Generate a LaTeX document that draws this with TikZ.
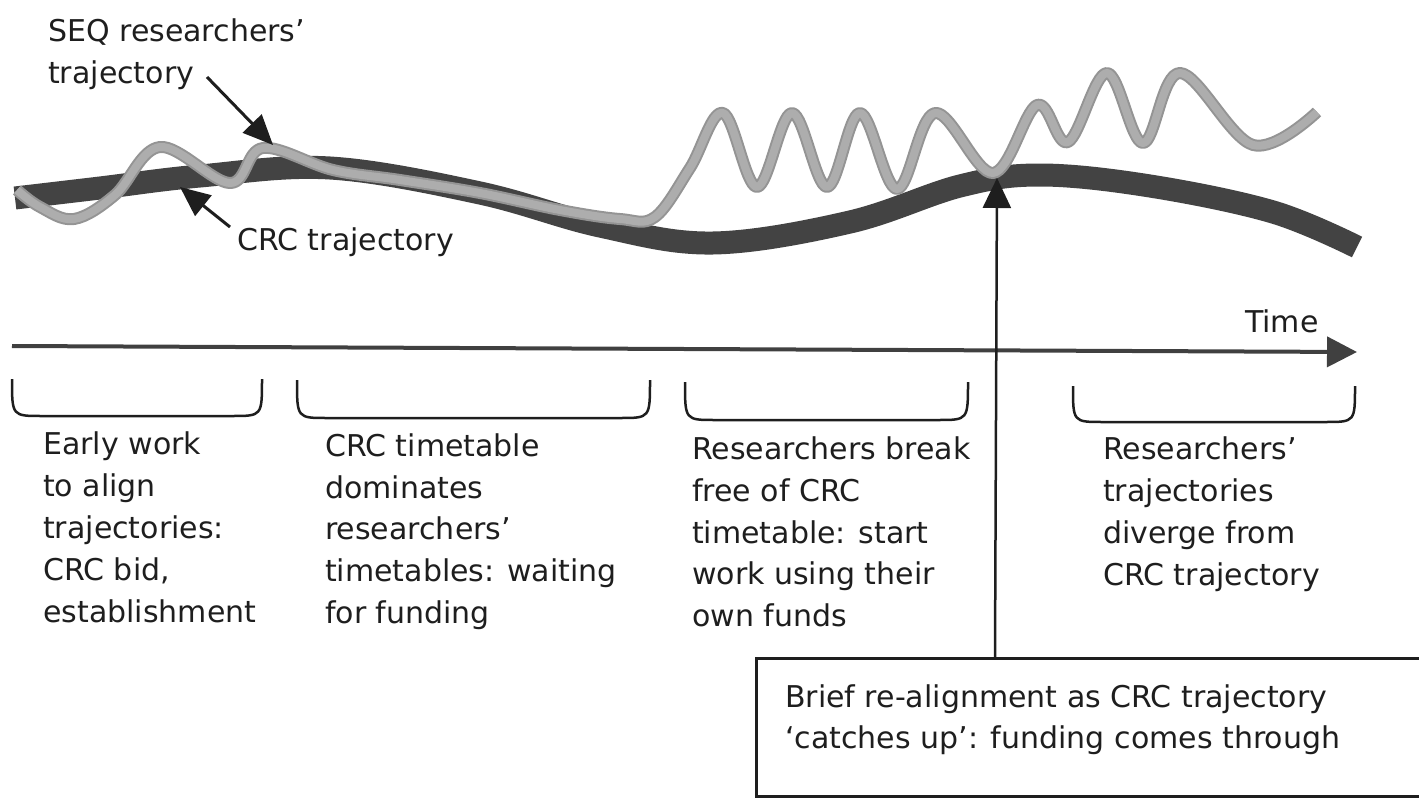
\documentclass[tikz,border=0pt]{standalone}
\usepackage{fontspec}
\setmainfont{DejaVu Sans}
\usetikzlibrary{arrows.meta,calc}
\definecolor{band}{HTML}{434343}
\definecolor{seqedge}{HTML}{949494}
\definecolor{seqfill}{HTML}{ADADAD}
\definecolor{ink}{HTML}{1E1E1E}
\newcommand\ubrk[4]{\draw[brkt] (#1,#2) .. controls (#1,#3) and (#1,#3) .. (#1+30,#3) -- (#4-30,#3) .. controls (#4,#3) and (#4,#3) .. (#4,#2);}
\begin{document}
\begin{tikzpicture}[x=1pt,y=-1pt,
  lbl/.style={font=\fontsize{30}{42}\selectfont, align=left, inner sep=0pt, text=ink},
  ptr/.style={draw=ink, line width=3pt, -{Triangle[length=30pt,width=26pt]}},
  brkt/.style={draw=ink, line width=2.5pt},
  crcband/.style={draw=band, line width=23pt},
  seqline/.style={draw=seqedge, double=seqfill, double distance=8pt, line width=2pt, line join=round},
  axisline/.style={draw=ink!85, line width=4pt, -{Triangle[length=30pt,width=30pt]}}]
\useasboundingbox (0,0) rectangle (1419,800);
\clip (0,0) rectangle (1419,800);

% CRC trajectory band
\draw[crcband] plot[smooth, tension=0.6] coordinates {(15,198) (100,188) (200,176) (330,168) (480,193) (600,226) (713,243) (850,222) (960,186) (1040,175) (1150,186) (1273,212) (1357,247)};

% SEQ researchers' trajectory
\draw[seqline] plot[smooth, tension=0.6] coordinates {(17,190) (40,207) (74,219) (115,195) (160,147) (230,183) (263,148) (333,170) (400,180) (480,193) (560,210) (620,219) (655,217) (690,168) (723,113) (757,187) (792,113) (827,187) (860,113) (897,189) (935,113) (993,173) (1037,105) (1068,142) (1107,73) (1143,143) (1180,73) (1253,145) (1317,112)};

% labels at top
\node[lbl, anchor=north west] (seqlbl) at (48,19) {SEQ researchers’\\trajectory};
\node[lbl, anchor=base west] (crclbl) at (237,250) {CRC trajectory};
\coordinate (seqtail) at (207,77);
\coordinate (seqtip) at (273,145);
\coordinate (crctip) at (180,187);
\draw[ptr] (seqtail) -- (seqtip);
\draw[ptr] ($(crclbl.north west)+(-7,0)$) -- (crctip);

% time axis
\coordinate (ax0) at (12,346);
\coordinate (ax1) at (1357,352);
\draw[axisline] (ax0) -- (ax1);
\node[lbl, anchor=base west] (time) at (1245,332) {Time};

% brackets
\ubrk{12}{379}{416}{262}
\ubrk{297}{380}{418}{650}
\ubrk{685}{382}{420}{968}
\ubrk{1073}{386}{422}{1355}

% phase texts
\node[lbl, anchor=north west] (p1) at (43,432) {Early work\\to align\\trajectories:\\CRC bid,\\establishment};
\node[lbl, anchor=north west] (p2) at (325,433) {CRC timetable\\dominates\\researchers’\\timetables: waiting\\for funding};
\node[lbl, anchor=north west] (p3) at (692,436) {Researchers break\\free of CRC\\timetable: start\\work using their\\own funds};
\node[lbl, anchor=north west] (p4) at (1103,437) {Researchers’\\trajectories\\diverge from\\CRC trajectory};

% re-alignment box
\node[draw=ink, line width=3pt, minimum width=720pt, minimum height=138pt, inner sep=0pt, anchor=north west] (box) at (755,657) {};
\node[lbl, anchor=north west, font=\fontsize{30}{41}\selectfont] (boxtxt) at (785,684) {Brief re-alignment as CRC trajectory\\‘catches up’: funding comes through};
\coordinate (catch) at (997,178);
\draw[ptr, line width=2.5pt, -{Triangle[length=30pt,width=28pt]}] ($(box.north west)+(240,0)$) -- (catch);
\end{tikzpicture}
\end{document}
